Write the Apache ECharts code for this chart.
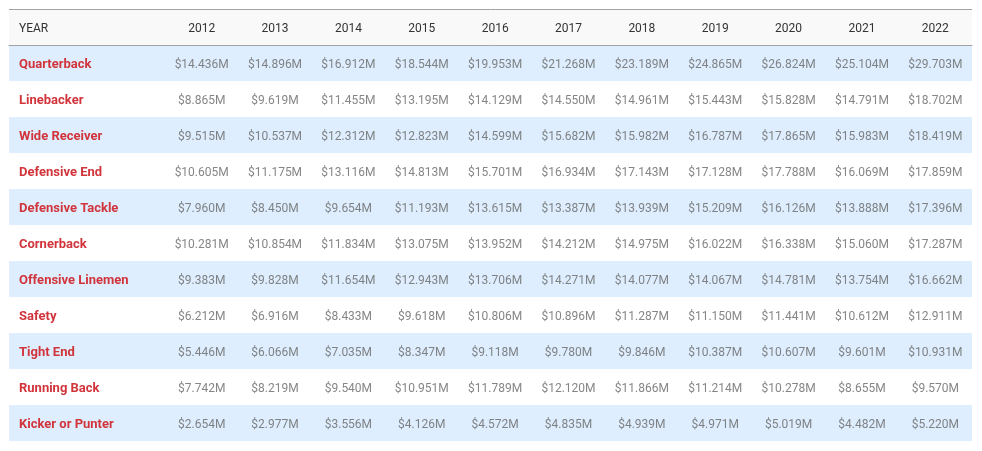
<!DOCTYPE html>
<html>
<head>
<meta charset="utf-8">
<script src="https://cdn.jsdelivr.net/npm/echarts@6/dist/echarts.min.js"></script>
<style>
  html, body { margin: 0; padding: 0; background: #fff; }
  #chart_salaries { width: 982px; height: 451px; }
</style>
</head>
<body>
<div id="chart_salaries"></div>
<script>
const years = ['2012', '2013', '2014', '2015', '2016', '2017', '2018', '2019', '2020', '2021', '2022'];
const positions = ['Quarterback', 'Linebacker', 'Wide Receiver', 'Defensive End', 'Defensive Tackle', 'Cornerback',
    'Offensive Linemen', 'Safety', 'Tight End', 'Running Back', 'Kicker or Punter'];

// average salary, millions of dollars
const quarterback = [14.436, 14.896, 16.912, 18.544, 19.953, 21.268, 23.189, 24.865, 26.824, 25.104, 29.703];
const linebacker = [8.865, 9.619, 11.455, 13.195, 14.129, 14.550, 14.961, 15.443, 15.828, 14.791, 18.702];
const wideReceiver = [9.515, 10.537, 12.312, 12.823, 14.599, 15.682, 15.982, 16.787, 17.865, 15.983, 18.419];
const defensiveEnd = [10.605, 11.175, 13.116, 14.813, 15.701, 16.934, 17.143, 17.128, 17.788, 16.069, 17.859];
const defensiveTackle = [7.960, 8.450, 9.654, 11.193, 13.615, 13.387, 13.939, 15.209, 16.126, 13.888, 17.396];
const cornerback = [10.281, 10.854, 11.834, 13.075, 13.952, 14.212, 14.975, 16.022, 16.338, 15.060, 17.287];
const offensiveLinemen = [9.383, 9.828, 11.654, 12.943, 13.706, 14.271, 14.077, 14.067, 14.781, 13.754, 16.662];
const safety = [6.212, 6.916, 8.433, 9.618, 10.806, 10.896, 11.287, 11.150, 11.441, 10.612, 12.911];
const tightEnd = [5.446, 6.066, 7.035, 8.347, 9.118, 9.780, 9.846, 10.387, 10.607, 9.601, 10.931];
const runningBack = [7.742, 8.219, 9.540, 10.951, 11.789, 12.120, 11.866, 11.214, 10.278, 8.655, 9.570];
const kickerPunter = [2.654, 2.977, 3.556, 4.126, 4.572, 4.835, 4.939, 4.971, 5.019, 4.482, 5.220];

const salaries = [quarterback, linebacker, wideReceiver, defensiveEnd, defensiveTackle, cornerback,
    offensiveLinemen, safety, tightEnd, runningBack, kickerPunter];

const font = 'Roboto, "Noto Sans", sans-serif';
const borderColor = '#a3a3a3';

const cells = [];
salaries.forEach((row, r) => {
    row.forEach((v, c) => cells.push([years[c], positions[r], v]));
});

function getOptionTable() {
    return {
        backgroundColor: '#fff',
        animation: false,
        grid: [
            { left: 9, right: 10, top: 45, bottom: 10 },   // full width: stripes + row names
            { left: 165, right: 10, top: 45, bottom: 10 }  // year columns
        ],
        graphic: [
            {
                type: 'rect', z: -10, silent: true,
                shape: { x: 9, y: 9, width: 963, height: 36 },
                style: { fill: '#f9f9f9' }
            },
            {
                type: 'line', silent: true,
                shape: { x1: 9, y1: 9.5, x2: 972, y2: 9.5 },
                style: { stroke: borderColor, lineWidth: 1 }
            },
            {
                type: 'text', silent: true, x: 19, y: 28.5,
                style: { text: 'YEAR', font: '12px ' + font, fill: '#333', verticalAlign: 'middle' }
            }
        ],
        xAxis: [
            {
                gridIndex: 0, type: 'value', position: 'top', min: 0, max: 1,
                axisLine: { show: true, onZero: false, lineStyle: { color: borderColor, width: 1 } },
                axisTick: { show: false },
                axisLabel: { show: false },
                splitLine: { show: false }
            },
            {
                gridIndex: 1, type: 'category', position: 'top', data: years,
                axisLine: { show: false },
                axisTick: { show: false },
                axisLabel: { color: '#333', fontSize: 12, fontFamily: font, margin: 10 },
                splitLine: { show: false }
            }
        ],
        yAxis: [
            {
                gridIndex: 0, type: 'category', inverse: true, data: positions,
                axisLine: { show: false },
                axisTick: { show: false },
                axisLabel: {
                    inside: true, margin: 10,
                    formatter: '{n|{value}}',
                    rich: {
                        n: {
                            padding: [4, 0, 0, 0],
                            color: '#d1343b', fontWeight: 'bold', fontSize: 13, fontFamily: font
                        }
                    }
                },
                splitLine: { show: false },
                splitArea: { show: true, areaStyle: { color: ['#deeefe', '#ffffff'] } }
            },
            {
                gridIndex: 1, type: 'category', inverse: true, data: positions, show: false
            }
        ],
        series: [
            {
                type: 'scatter',
                xAxisIndex: 1,
                yAxisIndex: 1,
                symbolSize: 0,
                silent: true,
                itemStyle: { color: 'transparent' },
                label: {
                    show: true,
                    position: 'inside',
                    offset: [0, 2],
                    color: '#666',
                    fontSize: 12,
                    fontFamily: font,
                    formatter: p => '$' + p.value[2].toFixed(3) + 'M'
                },
                data: cells
            }
        ]
    };
}

const chart = echarts.init(document.getElementById('chart_salaries'), null, { renderer: 'canvas' });
chart.setOption(getOptionTable());
</script>
</body>
</html>
